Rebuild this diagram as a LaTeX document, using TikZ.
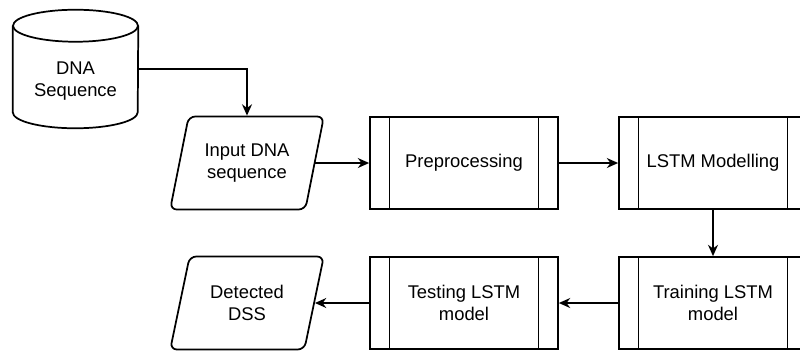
\documentclass[tikz,border=0pt]{standalone}
\usepackage{fontspec}
\setmainfont{Liberation Sans}
\usetikzlibrary{shapes.geometric,arrows.meta}
\begin{document}
\begin{tikzpicture}[x=0.75pt,y=-0.75pt,
  every node/.style={font=\fontsize{13.8}{17}\selectfont, align=center, text=black},
  shapeline/.style={draw=black, line width=1.3pt},
  procbox/.style={shapeline, rectangle, minimum width=141pt, minimum height=69pt, inner sep=0pt,
    path picture={\draw[line width=1.1pt]
      ([xshift=14.6pt]path picture bounding box.north west) -- ([xshift=14.6pt]path picture bounding box.south west)
      ([xshift=-14.6pt]path picture bounding box.north east) -- ([xshift=-14.6pt]path picture bounding box.south east);}},
  iobox/.style={shapeline, trapezium, trapezium left angle=71, trapezium right angle=109,
    trapezium stretches=true, minimum width=115.5pt, minimum height=69.75pt, inner sep=0pt,
    rounded corners=5pt},
  flow/.style={draw=black, line width=1.1pt, -{Stealth[length=8.5pt,width=7.5pt]}}]

\path[use as bounding box] (0,0) rectangle (800,351);

% database cylinder
\node[minimum width=93.75pt, minimum height=88.5pt, inner sep=0pt] (db) at (75.5,69) {};
\draw[shapeline] ([yshift=-12pt]db.north west) -- ([yshift=12pt]db.south west)
  arc[start angle=180, end angle=360, x radius=46.875pt, y radius=12pt]
  -- ([yshift=-12pt]db.north east);
\draw[shapeline] ([yshift=-12pt]db.north) ellipse[x radius=46.875pt, y radius=12pt];
\node (dbtext) at ([yshift=-9pt]db.center) {DNA\\Sequence};

% flow steps
\node[iobox] (inp) at (247,163) {Input DNA\\sequence};
\node[procbox] (pre) at (464,163) {Preprocessing};
\node[procbox] (lstm) at (713,163) {LSTM Modelling};
\node[procbox] (train) at (713,303) {Training LSTM\\model};
\node[procbox] (test) at (464,303) {Testing LSTM\\model};
\node[iobox] (det) at (247,303) {Detected\\DSS};

% connectors
\draw[flow] (db.east) -| (inp.center |- inp.north);
\draw[flow] (pre.west -| inp.east) -- (pre.west);
\draw[flow] (pre) -- (lstm);
\draw[flow] (lstm) -- (train);
\draw[flow] (train) -- (test);
\draw[flow] (test.west) -- (test.west -| det.east);
\end{tikzpicture}
\end{document}
